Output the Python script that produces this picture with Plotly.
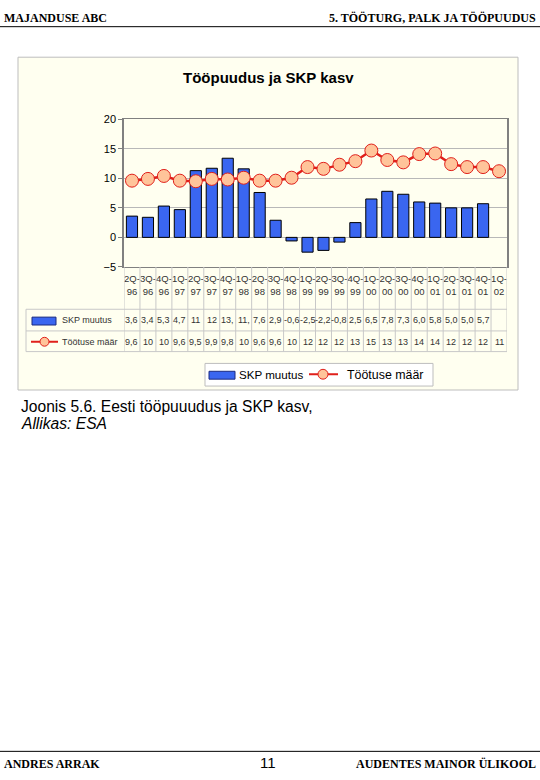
import plotly.graph_objects as go

W, H = 540, 780

quarters = ["2Q-<br>96", "3Q-<br>96", "4Q-<br>96", "1Q-<br>97", "2Q-<br>97", "3Q-<br>97", "4Q-<br>97",
            "1Q-<br>98", "2Q-<br>98", "3Q-<br>98", "4Q-<br>98", "1Q-<br>99", "2Q-<br>99", "3Q-<br>99",
            "4Q-<br>99", "1Q-<br>00", "2Q-<br>00", "3Q-<br>00", "4Q-<br>00", "1Q-<br>01", "2Q-<br>01",
            "3Q-<br>01", "4Q-<br>01", "1Q-<br>02"]
skp_muutus = [3.6, 3.4, 5.3, 4.7, 11.3, 11.7, 13.4, 11.6, 7.6, 2.9, -0.6, -2.5, -2.2, -0.8,
              2.5, 6.5, 7.8, 7.3, 6.0, 5.8, 5.0, 5.0, 5.7, None]
tootuse_maar = [9.6, 9.9, 10.4, 9.6, 9.5, 9.9, 9.8, 10.1, 9.6, 9.6, 10.1, 11.9, 11.6, 12.3,
                12.9, 14.7, 13.1, 12.7, 14.1, 14.2, 12.4, 11.9, 11.9, 11.2]
skp_labels = ["3,6", "3,4", "5,3", "4,7", "11", "12", "13,", "11,", "7,6", "2,9", "-0,6", "-2,5",
              "-2,2", "-0,8", "2,5", "6,5", "7,8", "7,3", "6,0", "5,8", "5,0", "5,0", "5,7", ""]
tootus_labels = ["9,6", "10", "10", "9,6", "9,5", "9,9", "9,8", "10", "9,6", "9,6", "10", "12",
                 "12", "12", "13", "15", "13", "13", "14", "14", "12", "12", "12", "11"]
y_ticks = [-5, 0, 5, 10, 15, 20]

BLUE = "#3A66F0"
RED = "#E0201B"
PEACH = "#FFC49A"


def px(x):
    return x / W


def py(y):
    return 1 - y / H


PL, PR, PT, PB = 124, 507, 115, 265
n = len(quarters)
xs = list(range(n))

fig = go.Figure()
fig.add_trace(go.Bar(x=xs, y=skp_muutus, name="SKP muutus",
                     marker=dict(color=BLUE, line=dict(color="black", width=1)),
                     showlegend=False))
fig.add_trace(go.Scatter(x=xs, y=tootuse_maar, name="Töötuse määr", mode="lines+markers",
                         line=dict(color=RED, width=2.5),
                         marker=dict(size=13, color=PEACH, line=dict(color=RED, width=1)),
                         showlegend=False))

shapes = []
annotations = []


def note(x, y, text, size, family="Arial", color="black", xanchor="center", xref="paper"):
    annotations.append(dict(x=x, y=y, xref=xref, yref="paper", xanchor=xanchor, yanchor="middle",
                            text=text, showarrow=False, font=dict(family=family, size=size, color=color)))


# outer chart box
shapes.append(dict(type="rect", xref="paper", yref="paper", x0=px(18), x1=px(518), y0=py(390), y1=py(52),
                   fillcolor="#FFFFF0", line=dict(color="#BDBDBD", width=1), layer="below"))

# table vertical lines
for i in range(n + 1):
    shapes.append(dict(type="line", xref="x", yref="paper", x0=i - 0.5, x1=i - 0.5,
                       y0=py(351), y1=py(PB), line=dict(color="#C8C8C8", width=1)))
# table horizontal lines
for yy in [308, 330, 351]:
    shapes.append(dict(type="line", xref="paper", yref="paper", x0=px(26), x1=px(PR),
                       y0=py(yy), y1=py(yy), line=dict(color="#C8C8C8", width=1)))
shapes.append(dict(type="line", xref="paper", yref="paper", x0=px(26), x1=px(26),
                   y0=py(308), y1=py(351), line=dict(color="#C8C8C8", width=1)))

# table row values
for i in xs:
    note(i, py(319), skp_labels[i], 9, color="#333333", xref="x")
    note(i, py(341), tootus_labels[i], 9, color="#333333", xref="x")

# table legend keys
shapes.append(dict(type="rect", xref="paper", yref="paper", x0=px(32), x1=px(56), y0=py(324), y1=py(316),
                   fillcolor=BLUE, line=dict(color="#1A2A80", width=1)))
shapes.append(dict(type="line", xref="paper", yref="paper", x0=px(31), x1=px(58), y0=py(341), y1=py(341),
                   line=dict(color=RED, width=2)))
shapes.append(dict(type="circle", xref="paper", yref="paper", x0=px(40), x1=px(49), y0=py(345.5), y1=py(336.5),
                   fillcolor=PEACH, line=dict(color=RED, width=1)))
note(px(60), py(319), "SKP muutus", 9, color="#333333", xanchor="left")
note(px(60), py(341), "Töötuse määr", 9, color="#333333", xanchor="left")

# bottom legend
shapes.append(dict(type="rect", xref="paper", yref="paper", x0=px(205), x1=px(433), y0=py(386), y1=py(363),
                   fillcolor="white", line=dict(color="#BDBDBD", width=1)))
shapes.append(dict(type="rect", xref="paper", yref="paper", x0=px(209), x1=px(235), y0=py(379), y1=py(371),
                   fillcolor=BLUE, line=dict(color="#1A2A80", width=1)))
note(px(237), py(374.5), "SKP muutus", 11.6, xanchor="left")
shapes.append(dict(type="line", xref="paper", yref="paper", x0=px(309), x1=px(338), y0=py(374), y1=py(374),
                   line=dict(color=RED, width=2)))
shapes.append(dict(type="circle", xref="paper", yref="paper", x0=px(318), x1=px(328), y0=py(379), y1=py(369),
                   fillcolor=PEACH, line=dict(color=RED, width=1)))
note(px(345), py(374.5), "Töötuse määr", 12.4, xanchor="left")

# chart title
note(px(268), py(73), "<b>Tööpuudus ja SKP kasv</b>", 15)

# page header / footer
serif = "Liberation Serif"
note(px(2), py(12), "<b>MAJANDUSE ABC</b>", 12, family=serif, xanchor="left")
note(px(538), py(12), "<b>5. TÖÖTURG, PALK JA TÖÖPUUDUS</b>", 12, family=serif, xanchor="right")
shapes.append(dict(type="line", xref="paper", yref="paper", x0=0, x1=1, y0=py(21), y1=py(21),
                   line=dict(color="black", width=1)))
shapes.append(dict(type="line", xref="paper", yref="paper", x0=0, x1=1, y0=py(757), y1=py(757),
                   line=dict(color="black", width=1)))
note(px(2), py(770), "<b>ANDRES ARRAK</b>", 12, family=serif, xanchor="left")
note(px(268), py(768), "11", 15)
note(px(538), py(770), "<b>AUDENTES MAINOR ÜLIKOOL</b>", 12, family=serif, xanchor="right")

# caption
note(px(19), py(407), "Joonis 5.6. Eesti tööpuuudus ja SKP kasv,", 15.6, xanchor="left")
note(px(19), py(424), "<i>Allikas: ESA</i>", 15.6, xanchor="left")

fig.update_layout(
    width=W, height=H, margin=dict(l=0, r=0, t=0, b=0),
    paper_bgcolor="white", plot_bgcolor="#FFFFC8",
    bargap=0.3, showlegend=False,
    shapes=shapes, annotations=annotations,
    xaxis=dict(domain=[px(PL), px(PR)], range=[-0.5, n - 0.5], tickmode="array", tickvals=xs,
               ticktext=quarters, showgrid=False, zeroline=False, ticks="", tickangle=0,
               ticklabelstandoff=3,
               tickfont=dict(family="Arial", size=9.5, color="#333333"),
               showline=True, linecolor="#808080", mirror=True),
    yaxis=dict(domain=[py(PB), py(PT)], range=[-5, 20], tickvals=y_ticks, showgrid=True,
               gridcolor="#B8B8B8", gridwidth=1, zeroline=False,
               ticks="outside", ticklen=4, tickcolor="#808080",
               tickfont=dict(family="Arial", size=11, color="black"),
               showline=True, linecolor="#808080", linewidth=1.5, mirror=True),
)

fig.write_html("out.html", config={"displayModeBar": False},
               post_script="document.body.style.margin='0';document.body.style.overflow='hidden';")
